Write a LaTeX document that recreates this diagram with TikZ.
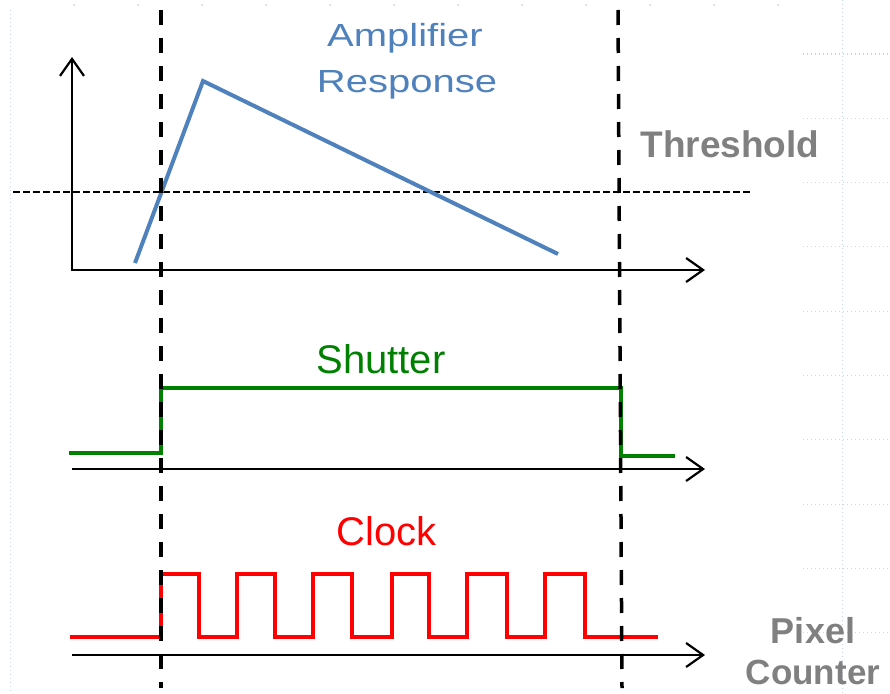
\documentclass[tikz,border=0pt]{standalone}
\usepackage{fontspec}
\setmainfont{Liberation Sans}
\usetikzlibrary{arrows.meta}
\definecolor{ampblue}{RGB}{79,129,189}
\definecolor{shgreen}{RGB}{0,128,0}
\definecolor{labgray}{RGB}{128,128,128}
\definecolor{gridblue}{RGB}{200,212,245}
\begin{document}
\begin{tikzpicture}[x=1pt,y=-1pt,
  axisline/.style={line width=2.2pt},
  vtip/.tip={Straight Barb[length=17pt,width=24pt,line width=2.2pt]},
  guide/.style={black,line width=3.5pt,dash pattern=on 15pt off 13pt},
  thrline/.style={black,line width=1.8pt,dash pattern=on 6.5pt off 3.5pt},
  signal/.style={line width=4pt,line join=miter},
  gridline/.style={gridblue,line width=1pt,dash pattern=on 1pt off 3pt},
  lab/.style={inner sep=0pt,anchor=base},
]
\useasboundingbox (0,0) rectangle (890,693);

% faint slide grid
\draw[gridline] (10,10) -- (10,693);
\foreach \gx in {74,138,...,780} \fill[gridblue] (\gx,5) circle (1pt);
\draw[gridline] (842,0) -- (842,693);
\foreach \k in {0,...,9} \draw[gridline] (803,54+64.3*\k) -- (890,54+64.3*\k);

% coordinates
\coordinate (ytip) at (72,57);
\coordinate (o1) at (72,270);
\coordinate (x1tip) at (705,270);
\coordinate (o2) at (72,469);
\coordinate (x2tip) at (705,469);
\coordinate (o3) at (72,655);
\coordinate (x3tip) at (705,655);
\coordinate (thL) at (13,192);
\coordinate (thR) at (750,192);
\coordinate (gLt) at (161,10);
\coordinate (gLb) at (161,688);
\coordinate (gRt) at (618,10);
\coordinate (gRb) at (622,688);

% threshold line
\draw[thrline] (thL) -- (thR);

% axes
\draw[axisline,vtip-vtip] (ytip) -- (o1) -- (x1tip);
\draw[axisline,-vtip] (o2) -- (x2tip);
\draw[axisline,-vtip] (o3) -- (x3tip);

% amplifier response
\coordinate (a1) at (135,263);
\coordinate (a2) at (203,81);
\coordinate (a3) at (558,254);
\draw[signal,ampblue] (a1) -- (a2) -- (a3);

% shutter
\draw[signal,shgreen] (69,453) -- (161,453) -- (161,388) -- (621,388) -- (621,456) -- (675,456);

% clock
\draw[signal,red] (70,637) -- (161,637) -- (161,574)
  -- (199,574) -- (199,637) -- (237,637) -- (237,574)
  -- (275,574) -- (275,637) -- (313,637) -- (313,574)
  -- (352,574) -- (352,637) -- (392,637) -- (392,574)
  -- (429,574) -- (429,637) -- (467,637) -- (467,574)
  -- (507,574) -- (507,637) -- (545,637) -- (545,574)
  -- (585,574) -- (585,637) -- (658,637);

% guides
\draw[guide] (gLt) -- (gLb);
\draw[guide] (gRt) -- (gRb);

% labels
\node[lab,text=ampblue,font=\fontsize{32}{38}\selectfont] (amp1) at (405,47) {\scalebox{1.25}[1]{Amplifier}};
\node[lab,text=ampblue,font=\fontsize{32}{38}\selectfont] (amp2) at (407,92) {\scalebox{1.25}[1]{Response}};
\node[lab,text=labgray,font=\fontsize{37}{44}\selectfont\bfseries] (thr) at (730,157) {Threshold};
\node[lab,text=shgreen,font=\fontsize{40}{48}\selectfont] (sh) at (381,373) {Shutter};
\node[lab,text=red,font=\fontsize{40}{48}\selectfont] (clk) at (387,545) {Clock};
\node[lab,text=labgray,font=\fontsize{36}{44}\selectfont\bfseries] (px1) at (813,643) {Pixel};
\node[lab,text=labgray,text depth=0pt,font=\fontsize{35}{44}\selectfont\bfseries] (px2) at (813,684) {Counter};
\end{tikzpicture}
\end{document}
